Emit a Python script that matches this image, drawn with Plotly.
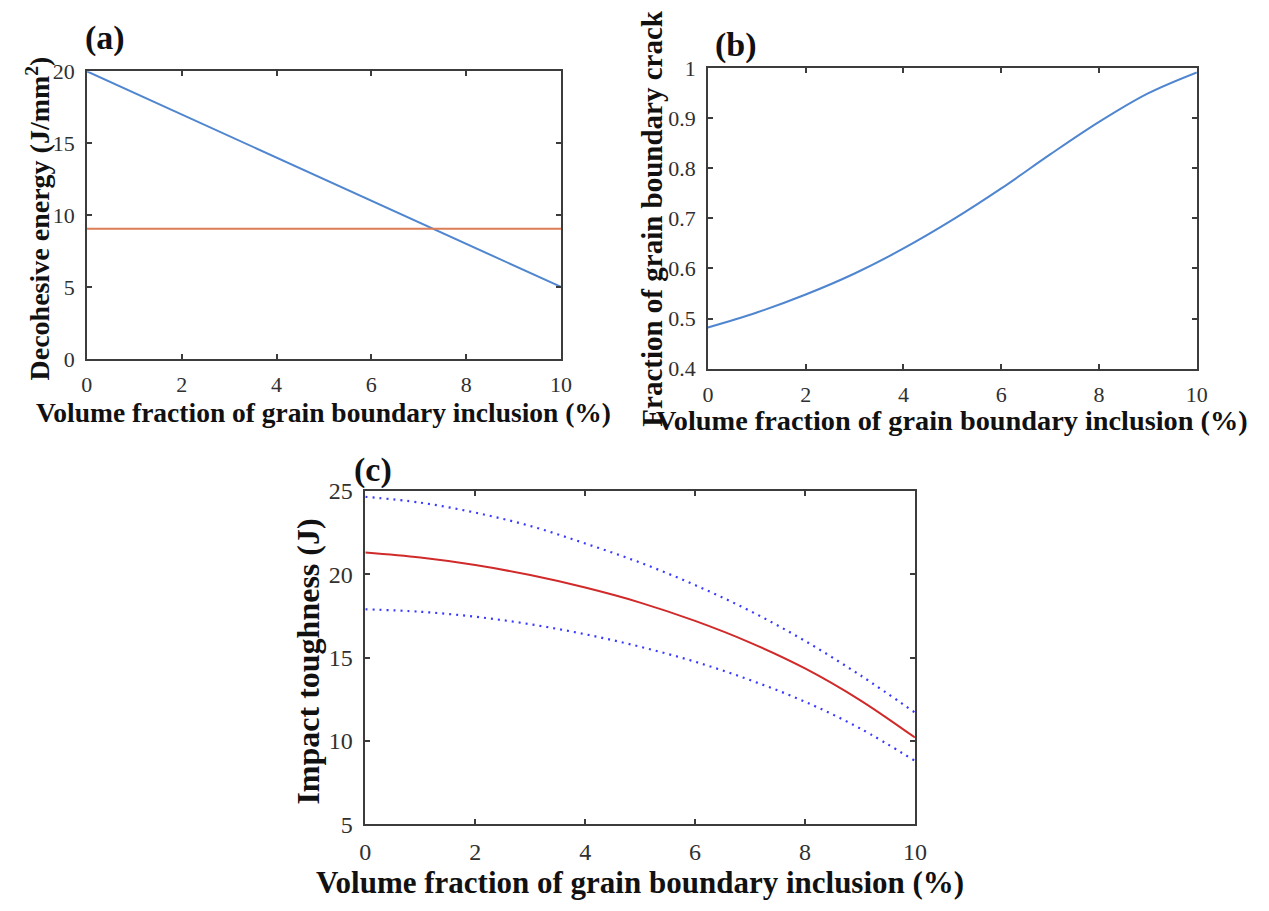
import plotly.graph_objects as go

# ---------------- data ----------------
xa = [0, 2, 4, 6, 8, 10]
decohesive_inclusion = [20, 17, 14, 11, 8, 5]
decohesive_matrix = [9.05, 9.05, 9.05, 9.05, 9.05, 9.05]

xb = [0, 1, 2, 3, 4, 5, 6, 7, 8, 9, 10]
gb_crack_fraction = [0.482, 0.512, 0.548, 0.590, 0.640, 0.697, 0.760, 0.828, 0.893, 0.950, 0.992]

xc = [0, 1, 2, 3, 4, 5, 6, 7, 8, 9, 10]
toughness_mean = [21.3, 21.0, 20.55, 19.95, 19.2, 18.3, 17.2, 15.9, 14.35, 12.45, 10.2]
toughness_upper = [24.65, 24.3, 23.7, 22.9, 21.85, 20.7, 19.35, 17.8, 16.0, 13.95, 11.7]
toughness_lower = [17.9, 17.75, 17.45, 17.0, 16.4, 15.65, 14.75, 13.65, 12.35, 10.75, 8.8]

xticks = [0, 2, 4, 6, 8, 10]
yticks_a = [0, 5, 10, 15, 20]
yticks_b = [0.4, 0.5, 0.6, 0.7, 0.8, 0.9, 1]
yticks_c = [5, 10, 15, 20, 25]

XTITLE = "Volume fraction of grain boundary inclusion (%)"

W, H = 1269, 911
SERIF = "Liberation Serif, Times New Roman, serif"

fig = go.Figure()

fig.add_trace(go.Scatter(x=xa, y=decohesive_inclusion, mode="lines",
                         line=dict(color="#4f86cf", width=2), xaxis="x", yaxis="y"))
fig.add_trace(go.Scatter(x=xa, y=decohesive_matrix, mode="lines",
                         line=dict(color="#dc7d55", width=2), xaxis="x", yaxis="y"))
fig.add_trace(go.Scatter(x=xb, y=gb_crack_fraction, mode="lines", line_shape="spline",
                         line=dict(color="#4f86cf", width=2), xaxis="x2", yaxis="y2"))
fig.add_trace(go.Scatter(x=xc, y=toughness_upper, mode="lines", line_shape="spline",
                         line=dict(color="#3a3aff", width=2.2, dash="2px,5px"), xaxis="x3", yaxis="y3"))
fig.add_trace(go.Scatter(x=xc, y=toughness_mean, mode="lines", line_shape="spline",
                         line=dict(color="#d02a2a", width=2), xaxis="x3", yaxis="y3"))
fig.add_trace(go.Scatter(x=xc, y=toughness_lower, mode="lines", line_shape="spline",
                         line=dict(color="#3a3aff", width=2.2, dash="2px,5px"), xaxis="x3", yaxis="y3"))


def px_dom(a, b, total):
    return [a / total, b / total]


def py_dom(top, bottom):
    return [1 - bottom / H, 1 - top / H]


def axis_common(fs):
    return dict(showgrid=False, zeroline=False, showline=True, linecolor="#3c3c3c",
                linewidth=1.6, mirror="allticks", ticks="inside", ticklen=5,
                tickcolor="#3c3c3c", tickwidth=1.5,
                tickfont=dict(family=SERIF, size=fs, color="#303030"))


# panel geometry (pixels)
A = dict(l=82, r=563, t=60, b=356)
B = dict(l=712, r=1208, t=57, b=366)
C = dict(l=364.5, r=922, t=492, b=835)

fig.update_layout(
    width=W, height=H, margin=dict(l=0, r=0, t=0, b=0),
    paper_bgcolor="white", plot_bgcolor="white", showlegend=False,
    xaxis=dict(domain=px_dom(A["l"], A["r"], W), range=[0, 10], tickvals=xticks,
               anchor="y", ticklabelstandoff=5, **axis_common(22)),
    yaxis=dict(domain=py_dom(A["t"], A["b"]), range=[0, 20], tickvals=yticks_a,
               anchor="x", ticklabelstandoff=6, **axis_common(22)),
    xaxis2=dict(domain=px_dom(B["l"], B["r"], W), range=[0, 10], tickvals=xticks,
                anchor="y2", ticklabelstandoff=5, **axis_common(22)),
    yaxis2=dict(domain=py_dom(B["t"], B["b"]), range=[0.4, 1], tickvals=yticks_b,
                anchor="x2", ticklabelstandoff=6, **axis_common(22)),
    xaxis3=dict(domain=px_dom(C["l"], C["r"], W), range=[0, 10], tickvals=xticks,
                anchor="y3", ticklabelstandoff=5, **axis_common(24)),
    yaxis3=dict(domain=py_dom(C["t"], C["b"]), range=[5, 25], tickvals=yticks_c,
                anchor="x3", ticklabelstandoff=6, **axis_common(24)),
)


def tfont(size):
    return dict(family=SERIF, size=size, color="#111111")


def ann(text, x, y, font, angle=0):
    fig.add_annotation(text=text, x=x / W, y=1 - y / H, xref="paper", yref="paper",
                       showarrow=False, font=font, textangle=angle, borderpad=0,
                       xanchor="center", yanchor="middle")


# x titles
ann("<b>" + XTITLE + "</b>", (A["l"] + A["r"]) / 2, 411, tfont(27.5))
ann("<b>" + XTITLE + "</b>", (B["l"] + B["r"]) / 2, 419, tfont(28.3))
ann("<b>" + XTITLE + "</b>", (C["l"] + C["r"]) / 2, 895, tfont(31))

# y titles
ann("<b>Decohesive energy (J/mm<sup>2</sup>)</b>", 33, 212, tfont(28), -90)
ann("<b>Fraction of grain boundary crack</b>", 655, 211, tfont(29), -90)
ann("<b>Impact toughness (J)</b>", 306, 668, tfont(32), -90)

# panel labels
ann("<b>(a)</b>", 100, 26, tfont(34))
ann("<b>(b)</b>", 740, 33, tfont(34))
ann("<b>(c)</b>", 372, 470, tfont(34))

fig.write_html("out.html")
